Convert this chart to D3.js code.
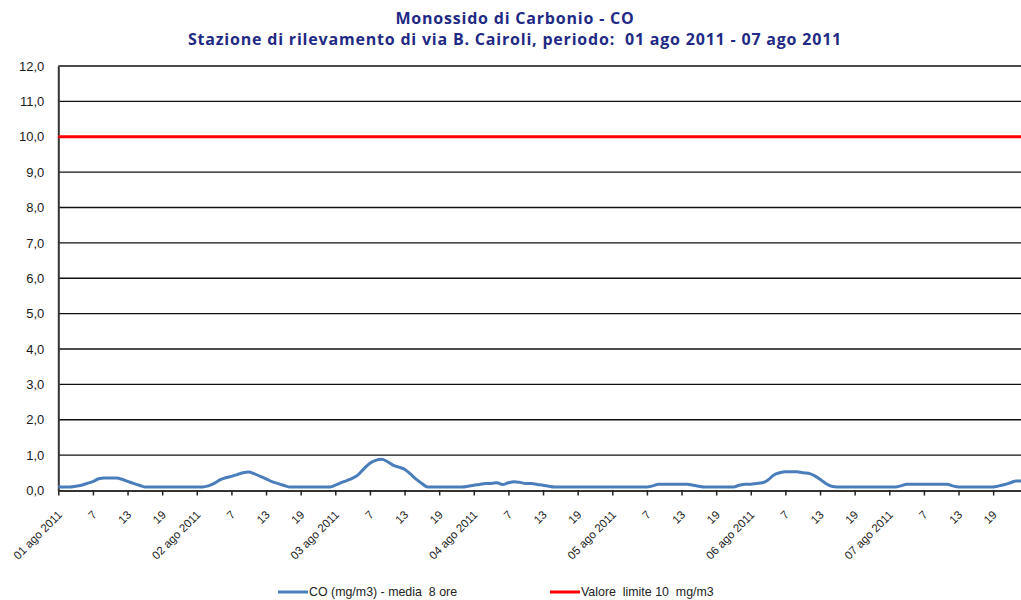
<!DOCTYPE html>
<html>
<head>
<meta charset="utf-8">
<script src="https://cdn.jsdelivr.net/npm/d3@7"></script>
<style>
  body { margin: 0; background: #fff; }
  svg { display: block; }
  text { white-space: pre; }
</style>
</head>
<body>
<svg id="chart" width="1021" height="600"></svg>
<script>
// hourly CO values (8h moving average), one array per day, hours 1..24
var coDay1 = [0.1, 0.1, 0.1, 0.12, 0.15, 0.2, 0.25, 0.33, 0.35, 0.35, 0.35, 0.32, 0.26, 0.2, 0.15, 0.1, 0.1, 0.1, 0.1, 0.1, 0.1, 0.1, 0.1, 0.1];
var coDay2 = [0.1, 0.1, 0.13, 0.2, 0.3, 0.36, 0.4, 0.45, 0.5, 0.52, 0.47, 0.4, 0.33, 0.25, 0.2, 0.15, 0.1, 0.1, 0.1, 0.1, 0.1, 0.1, 0.1, 0.1];
var coDay3 = [0.15, 0.22, 0.28, 0.35, 0.45, 0.62, 0.77, 0.85, 0.88, 0.82, 0.72, 0.66, 0.6, 0.47, 0.32, 0.2, 0.1, 0.1, 0.1, 0.1, 0.1, 0.1, 0.1, 0.12];
var coDay4 = [0.15, 0.17, 0.2, 0.2, 0.22, 0.17, 0.22, 0.25, 0.23, 0.2, 0.2, 0.17, 0.15, 0.12, 0.1, 0.1, 0.1, 0.1, 0.1, 0.1, 0.1, 0.1, 0.1, 0.1];
var coDay5 = [0.1, 0.1, 0.1, 0.1, 0.1, 0.1, 0.1, 0.13, 0.18, 0.18, 0.18, 0.18, 0.18, 0.18, 0.15, 0.12, 0.1, 0.1, 0.1, 0.1, 0.1, 0.1, 0.15, 0.18];
var coDay6 = [0.18, 0.2, 0.22, 0.3, 0.44, 0.5, 0.53, 0.53, 0.53, 0.5, 0.49, 0.42, 0.32, 0.2, 0.12, 0.1, 0.1, 0.1, 0.1, 0.1, 0.1, 0.1, 0.1, 0.1];
var coDay7 = [0.1, 0.1, 0.13, 0.18, 0.18, 0.18, 0.18, 0.18, 0.18, 0.18, 0.18, 0.13, 0.1, 0.1, 0.1, 0.1, 0.1, 0.1, 0.1, 0.13, 0.17, 0.22, 0.27, 0.27];

var limitValue = 10;

var dayLabels = ["01 ago 2011", "02 ago 2011", "03 ago 2011", "04 ago 2011", "05 ago 2011", "06 ago 2011", "07 ago 2011"];
var hourLabels = ["7", "13", "19"];
var yTicks = [0, 1, 2, 3, 4, 5, 6, 7, 8, 9, 10, 11, 12];

var titleLines = ["Monossido di Carbonio - CO", "Stazione di rilevamento di via B. Cairoli, periodo:  01 ago 2011 - 07 ago 2011"];
var legendLabels = ["CO (mg/m3) - media  8 ore", "Valore  limite 10  mg/m3"];

// series as {i, y}
var coValues = [].concat(coDay1, coDay2, coDay3, coDay4, coDay5, coDay6, coDay7)
    .map(function(v, i) { return { i: i, y: v }; });

// tick labels every 6 hours: date on first hour of the day, then 7, 13, 19
var tickLabels = [];
dayLabels.forEach(function(d) { tickLabels.push(d); hourLabels.forEach(function(h) { tickLabels.push(h); }); });

var svg = d3.select("#chart"),
    plotLeft = 58.3, plotRight = 1022, plotTop = 66, plotBottom = 490.5;

var xScale = d3.scaleLinear().domain([0, coValues.length - 1]).range([plotLeft, plotRight]),
    yScale = d3.scaleLinear().domain([0, 12]).range([plotBottom, plotTop]);

// title
svg.append("g").selectAll("text")
    .data(titleLines)
    .enter().append("text")
    .attr("x", 515)
    .attr("y", function(d, i) { return 24 + i * 21; })
    .attr("text-anchor", "middle")
    .style("font", "bold 16px 'Open Sans', sans-serif")
    .style("letter-spacing", "0.8px")
    .style("fill", "#1f2a85")
    .text(function(d) { return d; });

// horizontal grid lines
svg.append("g").selectAll("line")
    .data(yTicks.slice(1))
    .enter().append("line")
    .attr("x1", plotLeft).attr("x2", 1021)
    .attr("y1", function(d) { return yScale(d); })
    .attr("y2", function(d) { return yScale(d); })
    .style("stroke", "#111")
    .style("stroke-width", 1.4);

// y axis
var yAxis = svg.append("g")
    .attr("transform", "translate(" + plotLeft + ",0)")
    .call(d3.axisLeft(yScale).tickValues(yTicks).tickSize(0).tickPadding(14)
        .tickFormat(function(d) { return d3.format(".1f")(d).replace(".", ","); }));
yAxis.select(".domain").style("stroke", "#333").style("stroke-width", 2);
yAxis.selectAll("text")
    .style("font", "13px 'Liberation Sans', Arial, sans-serif")
    .style("fill", "#1a1a1a");

// x axis
var xAxis = svg.append("g")
    .attr("transform", "translate(0," + plotBottom + ")")
    .call(d3.axisBottom(xScale)
        .tickValues(d3.range(0, coValues.length, 6))
        .tickSize(5)
        .tickSizeOuter(0)
        .tickFormat(function(d) { return tickLabels[d / 6]; }));
xAxis.select(".domain").style("stroke", "#333").style("stroke-width", 2);
xAxis.selectAll(".tick line").style("stroke", "#222").style("stroke-width", 1.5);
xAxis.selectAll("text")
    .attr("text-anchor", "end")
    .attr("dy", 0)
    .attr("y", 0)
    .attr("transform", "translate(4,25) rotate(-45)")
    .style("font", "11.5px 'Liberation Sans', Arial, sans-serif")
    .style("fill", "#222");

// limit line
svg.append("line")
    .attr("x1", plotLeft).attr("x2", 1021)
    .attr("y1", yScale(limitValue)).attr("y2", yScale(limitValue))
    .style("stroke", "#ff0000")
    .style("stroke-width", 3);

// CO series
var line = d3.line()
    .curve(d3.curveMonotoneX)
    .x(function(d) { return xScale(d.i); })
    .y(function(d) { return yScale(d.y); });

svg.append("path")
    .datum(coValues)
    .attr("d", line)
    .style("fill", "none")
    .style("stroke", "#4a7ebb")
    .style("stroke-width", 3);

// legend
var legendColors = ["#4a7ebb", "#ff0000"],
    legendX = [278, 550];
var legend = svg.append("g").selectAll("g")
    .data(legendLabels)
    .enter().append("g")
    .attr("transform", function(d, i) { return "translate(" + legendX[i] + ",592)"; });
legend.append("line")
    .attr("x1", 0).attr("x2", 30)
    .style("stroke", function(d, i) { return legendColors[i]; })
    .style("stroke-width", 3);
legend.append("text")
    .attr("x", 31)
    .attr("dy", "0.35em")
    .style("font", "12.4px 'Liberation Sans', Arial, sans-serif")
    .style("fill", "#222")
    .text(function(d) { return d; });
</script>
</body>
</html>
